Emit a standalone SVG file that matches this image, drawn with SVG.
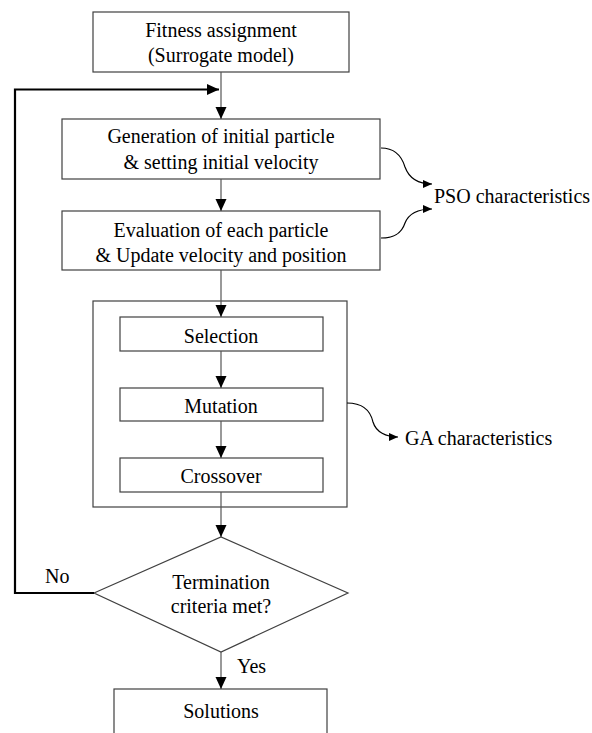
<svg xmlns="http://www.w3.org/2000/svg" width="592" height="733" viewBox="0 0 592 733">
<style>
.box{fill:#fff;stroke:#404040;stroke-width:1.2}
.frame{fill:none;stroke:#404040;stroke-width:1.2}
.t{font-family:'Times New Roman',Times,'Liberation Serif',Tinos,'DejaVu Serif',serif;font-size:20px;fill:#000;text-anchor:middle}
.tl{font-family:'Times New Roman',Times,'Liberation Serif',Tinos,'DejaVu Serif',serif;font-size:20px;fill:#000}
.c{fill:none;stroke:#555;stroke-width:1.2}
.cv{fill:none;stroke:#000;stroke-width:1.2}
.fb{fill:none;stroke:#000;stroke-width:2.2}
</style>
<defs>
<marker id="ah" markerUnits="userSpaceOnUse" markerWidth="12" markerHeight="12" viewBox="0 0 12 12" refX="12" refY="6" orient="auto">
<path d="M0,0.5 L12,6 L0,11.5 Z" fill="#000"/>
</marker>
<marker id="sh" markerUnits="userSpaceOnUse" markerWidth="9" markerHeight="8" viewBox="0 0 9 8" refX="9" refY="4" orient="auto">
<path d="M0,0 L9,4 L0,8 Z" fill="#000"/>
</marker>
</defs>
<rect width="592" height="733" fill="#fff"/>
<g id="fitness">
<rect class="box" x="93" y="12" width="256" height="60"/>
<text class="t" x="221" y="37">Fitness assignment</text>
<text class="t" x="221" y="62">(Surrogate model)</text>
</g>
<g id="generation">
<rect class="box" x="62" y="119" width="318" height="60"/>
<text class="t" x="221" y="143">Generation of initial particle</text>
<text class="t" x="221" y="169">&amp; setting initial velocity</text>
</g>
<g id="evaluation">
<rect class="box" x="62" y="211" width="318" height="59"/>
<text class="t" x="221" y="237">Evaluation of each particle</text>
<text class="t" x="221" y="262">&amp; Update velocity and position</text>
</g>
<g id="pso">
<text class="tl" x="434" y="203">PSO characteristics</text>
</g>
<g id="ga-block">
<rect class="frame" x="93" y="301" width="254" height="206"/>
</g>
<g id="selection">
<rect class="box" x="120" y="317" width="203" height="34"/>
<text class="t" x="221" y="343">Selection</text>
</g>
<g id="mutation">
<rect class="box" x="120" y="388" width="203" height="33"/>
<text class="t" x="221" y="413">Mutation</text>
</g>
<g id="crossover">
<rect class="box" x="120" y="458" width="203" height="34"/>
<text class="t" x="221" y="483">Crossover</text>
</g>
<g id="ga">
<text class="tl" x="405" y="445">GA characteristics</text>
</g>
<g id="termination">
<polygon class="box" points="94,593 221,537 348,593 221,652"/>
<text class="t" x="221" y="589">Termination</text>
<text class="t" x="221" y="613">criteria met?</text>
</g>
<g id="labels">
<text class="tl" x="45" y="583">No</text>
<text class="tl" x="237" y="673">Yes</text>
</g>
<g id="solutions">
<rect class="box" x="114" y="689" width="213" height="60"/>
<text class="t" x="221" y="718">Solutions</text>
</g>
<g id="connectors">
<line class="c" x1="221" y1="72" x2="221" y2="119" marker-end="url(#ah)"/>
<polyline class="fb" points="94,593 15,593 15,89.5 219,89.5" marker-end="url(#ah)"/>
<line class="c" x1="221" y1="179" x2="221" y2="211" marker-end="url(#ah)"/>
<line class="c" x1="221" y1="270" x2="221" y2="317" marker-end="url(#ah)"/>
<line class="c" x1="221" y1="351" x2="221" y2="388" marker-end="url(#ah)"/>
<line class="c" x1="221" y1="421" x2="221" y2="458" marker-end="url(#ah)"/>
<line class="c" x1="221" y1="492" x2="221" y2="537" marker-end="url(#ah)"/>
<line class="c" x1="221" y1="652" x2="221" y2="689" marker-end="url(#ah)"/>
<path class="cv" d="M381,148 C396,148 402,157 405,167 C409,178 418,184 432,184" marker-end="url(#sh)"/>
<path class="cv" d="M381,238 C396,238 402,232 405,223 C409,213 418,209 432,209" marker-end="url(#sh)"/>
<path class="cv" d="M347,403 C365,403 371,413 373,422 C376,432 386,437 398,437" marker-end="url(#sh)"/>
</g>
</svg>
